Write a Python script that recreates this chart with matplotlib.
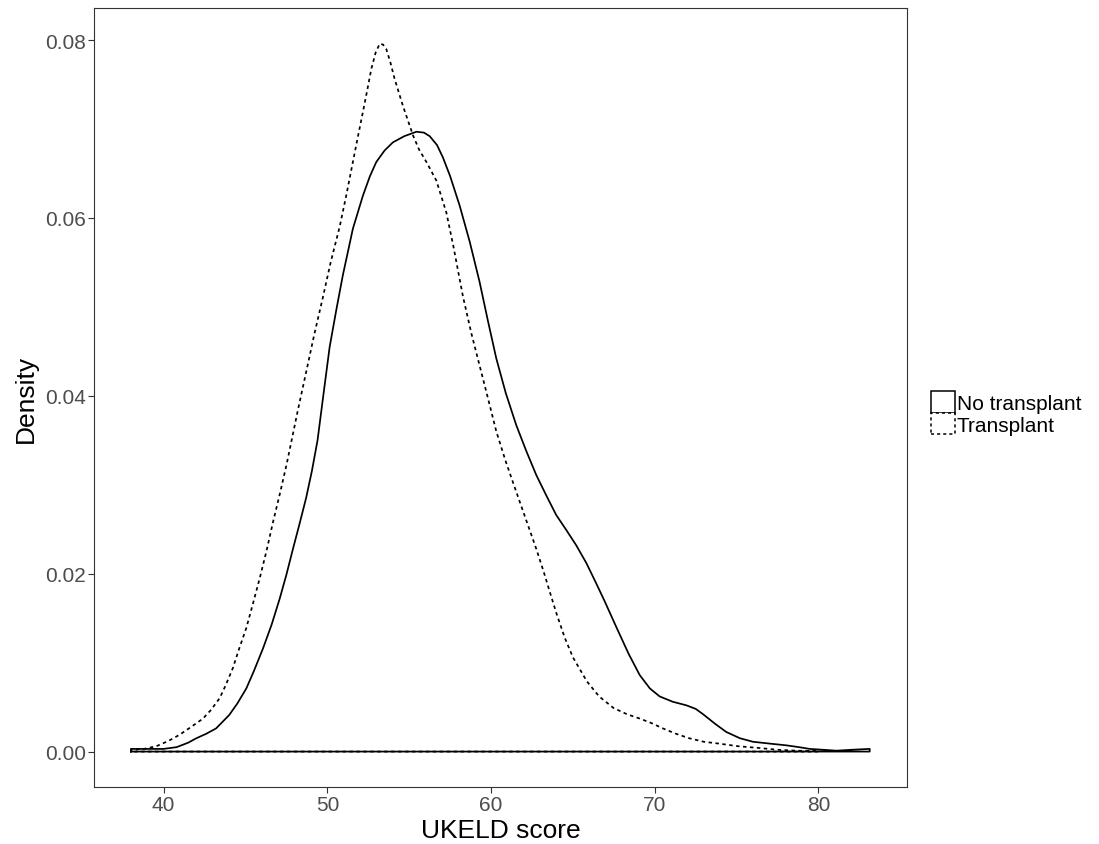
import numpy as np
import matplotlib
matplotlib.use("Agg")
import matplotlib.pyplot as plt
from matplotlib.patches import Patch

plt.rcParams['font.family'] = ['Liberation Sans', 'DejaVu Sans']

# density estimates (UKELD score, density)
no_tx_x = [38.0, 39.0, 40.0, 40.8, 41.5, 42.0, 42.6, 43.2, 44.0, 44.5, 45.05, 45.5,
           46.07, 46.6, 47.09, 47.5, 47.9, 48.3, 48.7, 49.05, 49.4, 49.75, 50.14,
           50.55, 50.95, 51.56, 52.17, 52.6, 52.99, 53.5, 54.0, 54.7, 55.44, 55.9,
           56.25, 56.7, 57.06, 57.5, 58.08, 58.7, 59.3, 59.8, 60.32, 60.9, 61.54,
           62.15, 62.76, 63.4, 63.98, 64.6, 65.2, 65.82, 66.4, 66.94, 67.65, 68.4,
           69.08, 69.7, 70.3, 71.1, 71.93, 72.5, 72.95, 73.7, 74.37, 75.2, 76.0,
           77.0, 78.04, 78.8, 79.46, 80.3, 81.1, 82.0, 83.13]
no_tx_y = [0.0003, 0.0003, 0.0003, 0.0005, 0.0010, 0.0015, 0.0020, 0.0026, 0.0041,
           0.0054, 0.0071, 0.0090, 0.0116, 0.0143, 0.0172, 0.0199, 0.0228, 0.0256,
           0.0285, 0.0315, 0.0350, 0.0400, 0.0455, 0.0497, 0.0536, 0.0588, 0.0625,
           0.0647, 0.0663, 0.0676, 0.0685, 0.0692, 0.0697, 0.0696, 0.0692, 0.0682,
           0.0668, 0.0647, 0.0614, 0.0573, 0.0528, 0.0485, 0.0442, 0.0403, 0.0367,
           0.0338, 0.0311, 0.0287, 0.0266, 0.0249, 0.0232, 0.0212, 0.0190, 0.0169,
           0.0140, 0.0110, 0.0086, 0.0071, 0.0062, 0.0056, 0.0052, 0.0048, 0.0042,
           0.0031, 0.0022, 0.0015, 0.0011, 0.0009, 0.0007, 0.0005, 0.0003, 0.0002,
           0.0001, 0.0002, 0.0003]

tx_x = [38.0, 38.8, 39.55, 40.3, 40.98, 41.7, 42.4, 42.9, 43.42, 43.8, 44.23, 44.6,
        45.05, 45.45, 45.87, 46.3, 46.68, 47.1, 47.5, 47.75, 48.2, 48.72, 49.2,
        49.73, 50.2, 50.75, 51.15, 51.56, 51.85, 52.17, 52.45, 52.69, 52.95, 53.2,
        53.4, 53.6, 53.85, 54.1, 54.6, 55.23, 55.6, 56.05, 56.66, 57.27, 57.7,
        58.28, 58.8, 59.3, 59.8, 60.32, 60.9, 61.54, 62.15, 62.76, 63.2, 63.68,
        64.0, 64.5, 65.0, 65.85, 66.6, 67.48, 68.3, 69.1, 69.8, 70.5, 71.3, 72.1,
        73.0, 73.9, 75.1, 76.4, 77.5, 78.66, 80.0]
tx_y = [0.0002, 0.0003, 0.0006, 0.0012, 0.0019, 0.0028, 0.0037, 0.0047, 0.0060,
        0.0075, 0.0094, 0.0115, 0.0139, 0.0166, 0.0195, 0.0227, 0.0258, 0.0290,
        0.0322, 0.0344, 0.0384, 0.0428, 0.0469, 0.0511, 0.0550, 0.0590, 0.0625,
        0.0663, 0.0690, 0.0719, 0.0745, 0.0768, 0.0786, 0.0796, 0.0795, 0.0790,
        0.0775, 0.0757, 0.0727, 0.0693, 0.0677, 0.0663, 0.0642, 0.0606, 0.0568,
        0.0512, 0.0470, 0.0434, 0.0398, 0.0360, 0.0326, 0.0292, 0.0260, 0.0228,
        0.0203, 0.0174, 0.0155, 0.0128, 0.0106, 0.0079, 0.0062, 0.0049, 0.0042,
        0.0037, 0.0032, 0.0026, 0.0020, 0.0015, 0.0011, 0.0009, 0.0006, 0.0004,
        0.0002, 0.0001, 0.00005]

groups = ['No transplant', 'Transplant']
x_ticks = [40, 50, 60, 70, 80]
y_ticks = [0.00, 0.02, 0.04, 0.06, 0.08]

dash = (0, (2, 2))
styles = {'No transplant': '-', 'Transplant': dash}
data = {'No transplant': (no_tx_x, no_tx_y), 'Transplant': (tx_x, tx_y)}

fig = plt.figure(figsize=(10.99, 8.45), dpi=100)
ax = fig.add_axes([0.0855, 0.0675, 0.7395, 0.9215])

for g in groups:
    xs, ys = data[g]
    # closed outline like geom_density
    px = [xs[0]] + list(xs) + [xs[-1], xs[0]]
    py = [0] + list(ys) + [0, 0]
    ax.plot(px, py, color='black', lw=1.25, ls=styles[g])

xmin, xmax = 38.0, 83.13
pad = (xmax - xmin) * 0.05
ax.set_xlim(xmin - pad, xmax + pad)
ymax = 0.0796
ax.set_ylim(-ymax * 0.05, ymax * 1.05)

ax.set_xticks(x_ticks)
ax.set_yticks(y_ticks)
ax.set_yticklabels(['%.2f' % v for v in y_ticks])
ax.tick_params(axis='both', colors='#333333', labelcolor='#4D4D4D',
               labelsize=15, length=4, width=0.8, pad=2)
for s in ax.spines.values():
    s.set_color('#333333')
    s.set_linewidth(0.8)

ax.set_xlabel('UKELD score', fontsize=19, labelpad=3)
ax.set_ylabel('Density', fontsize=19, labelpad=5)

handles = [Patch(facecolor='white', edgecolor='black', lw=1.1, ls=styles[g]) for g in groups]
fig.legend(handles, groups, loc='center left', bbox_to_anchor=(0.847, 0.51),
           frameon=False, fontsize=15, handlelength=1.15, handleheight=1.2,
           labelspacing=0.0, handletextpad=0.1, borderpad=0, borderaxespad=0)

fig.savefig('out.png', dpi=100)
